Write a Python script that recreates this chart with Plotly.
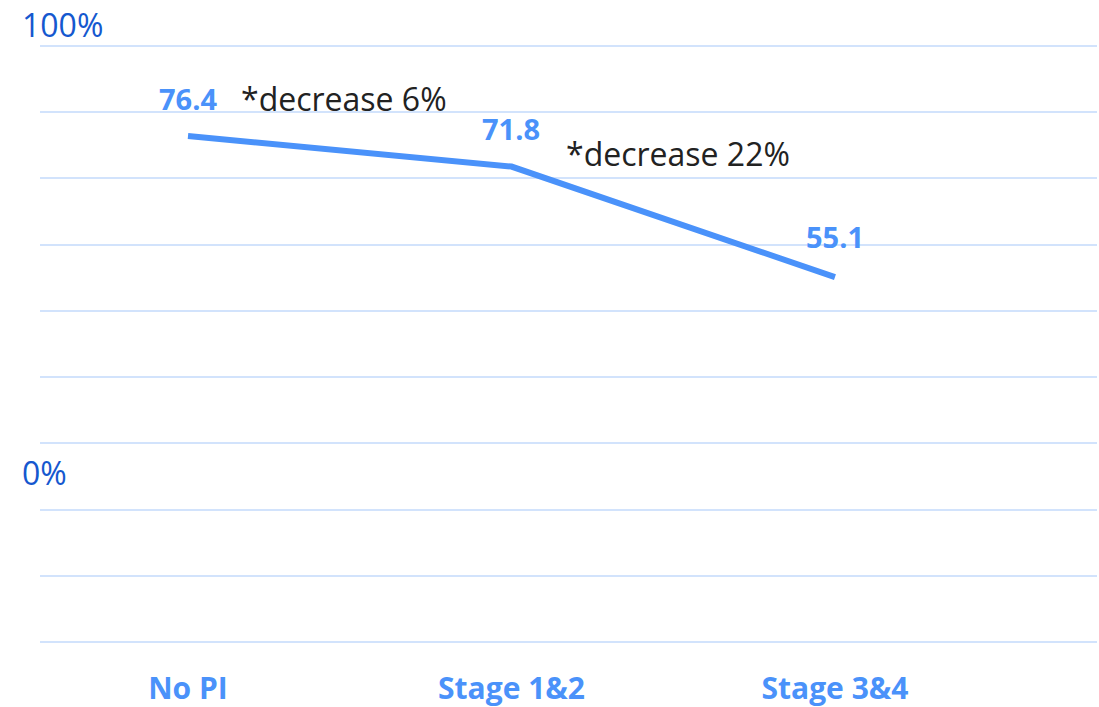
import plotly.graph_objects as go

# Survival rate by pressure-injury stage
categories = ["No PI", "Stage 1&2", "Stage 3&4"]
rates = [76.4, 71.8, 55.1]
rate_labels = ["76.4", "71.8", "55.1"]
change_notes = ["*decrease 6%", "*decrease 22%"]

W, H = 1099, 707
ML, MR, MT, MB = 40, 2, 0, 65
LINE_BLUE = "#4A92FA"
AXIS_BLUE = "#1558CF"
GRID_BLUE = "#D2E3FC"

fig = go.Figure()
fig.add_trace(go.Scatter(
    x=categories, y=rates, mode="lines",
    line=dict(color=LINE_BLUE, width=6),
    hoverinfo="skip", showlegend=False,
))

annotations = []
# value labels above each point
for c, v, t, ys in zip(categories, rates, rate_labels, [38, 38, 41]):
    annotations.append(dict(
        x=c, y=v, xref="x", yref="y", text=f"<b>{t}</b>", showarrow=False,
        yshift=ys, xanchor="center", yanchor="middle",
        font=dict(family="Open Sans", size=29, color=LINE_BLUE),
    ))
# change notes between stages
for c, v, t, xs, ys in zip(categories[:2], rates[:2], change_notes, [51, 53], [38, 13]):
    annotations.append(dict(
        x=c, y=v, xref="x", yref="y", text=t, showarrow=False,
        xshift=xs, yshift=ys, xanchor="left", yanchor="middle",
        font=dict(family="Open Sans", size=32, color="#222222"),
    ))

plot_w = W - ML - MR
plot_h = H - MT - MB


def px_x(px):
    return (px - ML) / plot_w


def px_y(py):
    return 1 - (py - MT) / plot_h


for txt, py in [("100%", 25), ("0%", 472)]:
    annotations.append(dict(
        x=px_x(20), y=px_y(py), xref="paper", yref="paper", text=txt,
        showarrow=False, xanchor="left", yanchor="middle",
        font=dict(family="Open Sans", size=32, color=AXIS_BLUE),
    ))

fig.update_layout(
    width=W, height=H,
    margin=dict(l=ML, r=MR, t=MT, b=MB),
    paper_bgcolor="white", plot_bgcolor="white",
    annotations=annotations,
    xaxis=dict(
        type="category", range=[-0.4575, 2.81],
        showgrid=False, zeroline=False, showline=False,
        ticks="", ticklabelstandoff=26,
        tickfont=dict(family="Open Sans", size=30, color=LINE_BLUE),
        tickvals=categories, ticktext=[f"<b>{c}</b>" for c in categories],
    ),
    yaxis=dict(
        range=[0, 96.95], dtick=10, tick0=0,
        showgrid=True, gridcolor=GRID_BLUE, gridwidth=2,
        zeroline=True, zerolinecolor=GRID_BLUE, zerolinewidth=2,
        showticklabels=False, showline=False, ticks="",
    ),
)

fig.write_html("out.html")
